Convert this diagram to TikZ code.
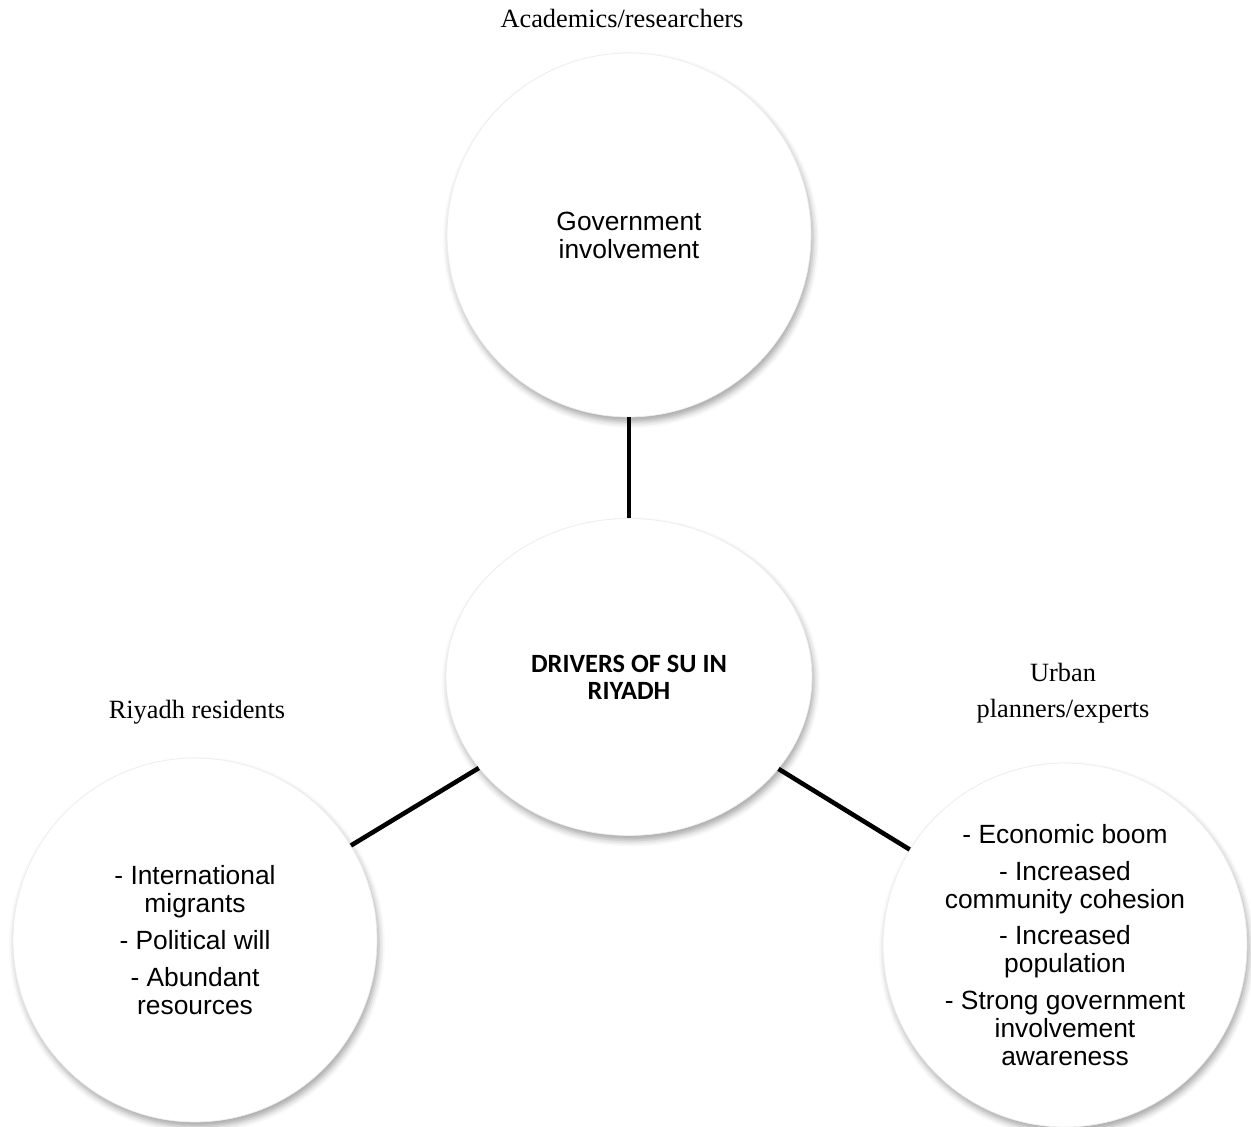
\documentclass[tikz,border=0pt]{standalone}
\usepackage{fontspec}
\setmainfont{Liberation Serif}
\newfontfamily\arialfont{Liberation Sans}
\newfontfamily\calibrifont{Carlito}
\usetikzlibrary{shapes.geometric,shadows.blur}

\tikzset{
  bubble/.style={circle, minimum size=7.28cm, inner sep=0pt,
    fill=white, draw=black!7, line width=0.4pt,
    blur shadow={shadow xshift=0.4mm, shadow yshift=-1.0mm,
      shadow blur radius=1.2mm, shadow opacity=35},
    align=center, font=\arialfont\fontsize{15}{15.9}\selectfont},
  hub/.style={bubble, ellipse, minimum width=7.32cm, minimum height=6.34cm,
    font=\calibrifont\bfseries\fontsize{15}{15.3}\selectfont},
  group/.style={font=\fontsize{15}{20.4}\selectfont, align=center, inner sep=0pt},
  link/.style={line width=2.6pt, black}
}

\begin{document}
\begin{tikzpicture}[x=0.02cm, y=-0.02cm]
  \useasboundingbox (0,0) rectangle (1251,1126);

  % stakeholder group labels
  \node[group, anchor=base] (lblA) at (622,27) {Academics/researchers};
  \node[group, anchor=base] (lblR) at (197,718) {Riyadh residents};
  \node[group] (lblU) at (1063,693) {Urban\\planners/experts};

  % driver bubbles
  \node[bubble] (gov) at (629,235) {Government\\involvement};
  \node[hub] (hub) at (629,677) {DRIVERS OF SU IN\\RIYADH};
  \node[bubble] (res) at (195,940)
    {- International\\migrants\\[5pt]- Political will\\[5pt]- Abundant\\resources};
  \node[bubble] (urb) at (1065,945)
    {- Economic boom\\[5pt]- Increased\\community cohesion\\[5pt]- Increased\\population\\[5pt]- Strong government\\involvement\\awareness};

  % connectors from the hub
  \draw[link] (gov) -- (hub);
  \draw[link] (hub) -- (res);
  \draw[link] (hub) -- (urb);
\end{tikzpicture}
\end{document}
